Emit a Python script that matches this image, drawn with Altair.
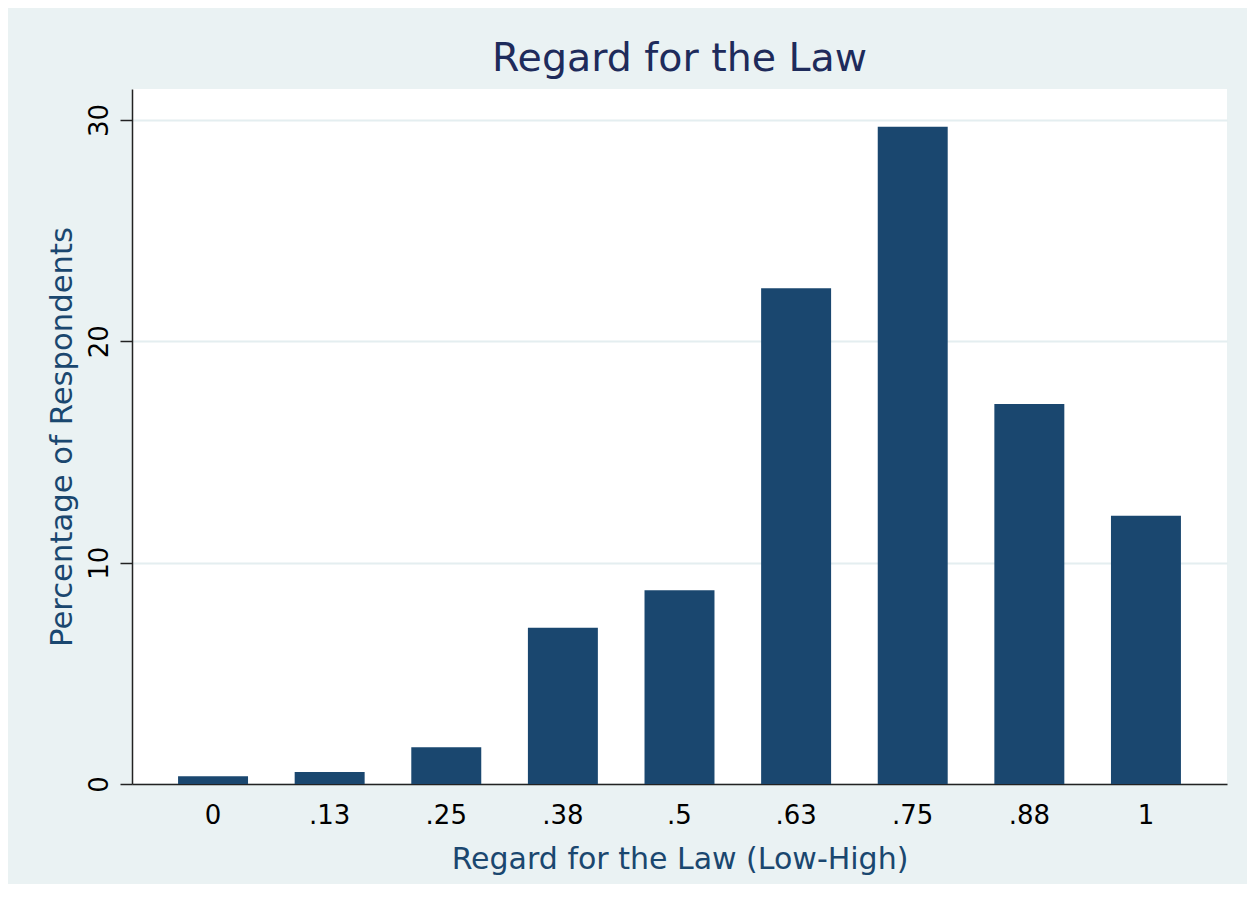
import altair as alt
import pandas as pd

categories = ["0", ".13", ".25", ".38", ".5", ".63", ".75", ".88", "1"]
percentages = [0.35, 0.54, 1.66, 7.06, 8.75, 22.40, 29.70, 17.17, 12.12]
y_ticks = [0, 10, 20, 30]

df = pd.DataFrame({"level": categories, "pct": percentages})

FONT = "DejaVu Sans"
BG = "#EAF2F3"
NAVY = "#1A476F"

chart = (
    alt.Chart(df)
    .mark_bar(color=NAVY)
    .encode(
        x=alt.X(
            "level:N",
            sort=categories,
            scale=alt.Scale(paddingInner=0.4, paddingOuter=0.395),
            axis=alt.Axis(
                title="Regard for the Law (Low-High)",
                labelAngle=0,
                ticks=False,
                labelPadding=18,
                labelFontSize=26,
                labelColor="#000000",
                labelFont=FONT,
                titleFont=FONT,
                titleFontSize=30,
                titleFontWeight="normal",
                titleColor=NAVY,
                titlePadding=16,
                domainColor="#222222",
                domainWidth=1.5,
                grid=False,
            ),
        ),
        y=alt.Y(
            "pct:Q",
            scale=alt.Scale(domain=[0, 31.4], nice=False, zero=True),
            axis=alt.Axis(
                title="Percentage of Respondents",
                values=y_ticks,
                labelAngle=270,
                tickSize=12,
                tickColor="#222222",
                tickWidth=1.5,
                labelPadding=8,
                labelFontSize=26,
                labelColor="#000000",
                labelFont=FONT,
                titleFont=FONT,
                titleFontSize=30.7,
                titleFontWeight="normal",
                titleColor=NAVY,
                titlePadding=9,
                domainColor="#222222",
                domainWidth=1.5,
                grid=True,
                gridColor="#E4EEF0",
                gridWidth=2,
            ),
        ),
    )
    .properties(
        width=1095,
        height=695,
        title=alt.TitleParams(
            "Regard for the Law",
            font=FONT,
            fontSize=39.5,
            fontWeight="normal",
            color="#1E2B5B",
            anchor="middle",
            offset=10,
        ),
        background=BG,
        padding={"left": 124, "top": 81, "right": 20, "bottom": 100},
        autosize=alt.AutoSizeParams(type="none"),
    )
    .configure_view(fill="white", stroke=None)
)

chart.save("out.html", embed_options={"renderer": "svg", "actions": False})
